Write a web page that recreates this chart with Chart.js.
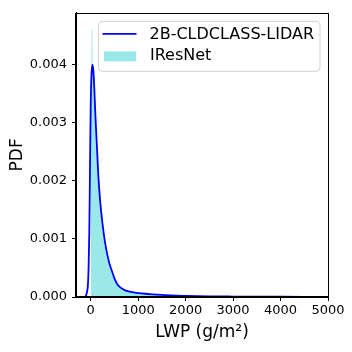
<!DOCTYPE html>
<html>
<head>
<meta charset="utf-8">
<script src="https://cdn.jsdelivr.net/npm/chart.js@4/dist/chart.umd.min.js"></script>
<style>
  html, body { margin: 0; padding: 0; background: #fff; }
  #wrap { width: 352px; height: 352px; }
</style>
</head>
<body>
<div id="wrap"><canvas id="pdfChart" width="352" height="352"></canvas></div>
<script>
// LWP (g/m2) and PDF values
const lidarLwp = [-110, -80, -60, -45, -30, -20, -10, 0, 15, 35, 55, 75, 100, 130, 160, 200, 250, 300, 350, 400, 450, 500, 560, 650, 740, 900, 1100, 1300, 1500, 1800, 2000, 2500, 3000, 3500, 4000, 4500, 5000];
const lidarPdf = [0, 0.00008, 0.0002, 0.0005, 0.0011, 0.0018, 0.0026, 0.0033, 0.0038, 0.0040, 0.0039, 0.0036, 0.0031, 0.0026, 0.0021, 0.00164, 0.00125, 0.00095, 0.00073, 0.00056, 0.00044, 0.00032, 0.00022, 0.00015, 0.00011, 0.00008, 0.00006, 0.000045, 0.000035, 0.000025, 0.00002, 0.000012, 0.000008, 0.000005, 0.000004, 0.000003, 0.000002];

const iresLwp = [0, 0, 10, 18, 35, 42, 60, 80, 100, 130, 160, 200, 250, 300, 350, 400, 450, 500, 560, 650, 740, 900, 1100, 1500, 2000, 3000, 4000, 5000];
const iresPdf = [0, 0.0030, 0.0037, 0.0046, 0.0046, 0.0039, 0.0036, 0.0033, 0.0029, 0.0024, 0.0019, 0.0015, 0.00115, 0.00088, 0.00067, 0.00051, 0.0004, 0.0003, 0.00021, 0.00015, 0.00011, 0.00008, 0.00006, 0.000035, 0.00002, 0.000008, 0.000004, 0.000002];

const xTicks = [0, 1000, 2000, 3000, 4000, 5000];
const yTicks = [0, 0.001, 0.002, 0.003, 0.004];
const seriesNames = ['2B-CLDCLASS-LIDAR', 'IResNet'];

const toPoints = (xs, ys) => xs.map((x, i) => ({ x: x, y: ys[i] }));

const FONT = 'DejaVu Sans';
const CYAN = 'rgba(64, 212, 212, 0.53)';

// frame on all four sides plus a matplotlib-like legend box
const framePlugin = {
    id: 'frame',
    afterDraw(chart) {
        const ctx = chart.ctx;
        const a = chart.chartArea;
        ctx.save();
        ctx.strokeStyle = '#000';
        ctx.lineWidth = 1;
        ctx.strokeRect(Math.round(a.left) - 0.5, Math.round(a.top) + 0.5, Math.round(a.right - a.left) + 1, Math.round(a.bottom - a.top) - 1);

        // legend
        const bx = a.left + 22.5, by = a.top + 8.5, bw = a.right - 8 - bx, bh = 50;
        ctx.beginPath();
        ctx.roundRect(bx, by, bw, bh, 4);
        ctx.fillStyle = 'rgba(255,255,255,0.8)';
        ctx.fill();
        ctx.strokeStyle = '#d0d0d0';
        ctx.stroke();

        ctx.strokeStyle = '#0000ff';
        ctx.lineWidth = 1.8;
        ctx.beginPath();
        ctx.moveTo(bx + 4, by + 12.5);
        ctx.lineTo(bx + 38, by + 12.5);
        ctx.stroke();

        ctx.fillStyle = CYAN;
        ctx.fillRect(bx + 5.5, by + 30, 32, 10);

        ctx.fillStyle = '#000';
        ctx.font = '16px "' + FONT + '"';
        ctx.textBaseline = 'middle';
        ctx.textAlign = 'left';
        ctx.fillText(seriesNames[0], bx + 51, by + 13.5);
        ctx.fillText(seriesNames[1], bx + 51.5, by + 35);
        ctx.restore();
    }
};

const ctx = document.getElementById('pdfChart').getContext('2d');
const pdfChart = new Chart(ctx, {
    type: 'line',
    data: {
        datasets: [{
            label: seriesNames[0],
            data: toPoints(lidarLwp, lidarPdf),
            borderColor: '#0000ff',
            borderWidth: 1.8,
            pointRadius: 0,
            fill: false,
            tension: 0.3,
            cubicInterpolationMode: 'monotone'
        }, {
            label: seriesNames[1],
            data: toPoints(iresLwp, iresPdf),
            borderWidth: 0,
            borderColor: 'rgba(0,0,0,0)',
            backgroundColor: CYAN,
            pointRadius: 0,
            fill: 'origin',
            tension: 0
        }]
    },
    options: {
        responsive: false,
        animation: false,
        events: [],
        layout: { padding: { top: 10, right: 24, left: 9.5, bottom: 10.5 } },
        plugins: { legend: { display: false }, tooltip: { enabled: false } },
        scales: {
            x: {
                type: 'linear',
                min: -310,
                max: 5000,
                afterFit(scale) { scale.height = 55 - 10.5; },
                afterBuildTicks(scale) { scale.ticks = xTicks.map(v => ({ value: v })); },
                grid: { drawOnChartArea: false, drawTicks: true, tickLength: 4, color: '#000' },
                border: { display: true, color: '#000', width: 1 },
                ticks: { color: '#000', padding: 2, maxRotation: 0, font: { family: FONT, size: 13 }, callback: v => String(v) },
                title: { display: true, text: 'LWP (g/m²)', color: '#000', padding: 0, font: { family: FONT, size: 17, lineHeight: 1 } }
            },
            y: {
                min: 0,
                max: 0.00489,
                afterFit(scale) { scale.width = 76 - 9.5; },
                afterBuildTicks(scale) { scale.ticks = yTicks.map(v => ({ value: v })); },
                grid: { drawOnChartArea: false, drawTicks: true, tickLength: 4, color: '#000' },
                border: { display: true, color: '#000', width: 1 },
                ticks: { color: '#000', padding: 5, font: { family: FONT, size: 13 }, callback: v => v.toFixed(3) },
                title: { display: true, text: 'PDF', color: '#000', padding: 0, font: { family: FONT, size: 17, lineHeight: 1 } }
            }
        }
    },
    plugins: [framePlugin]
});
</script>
</body>
</html>
